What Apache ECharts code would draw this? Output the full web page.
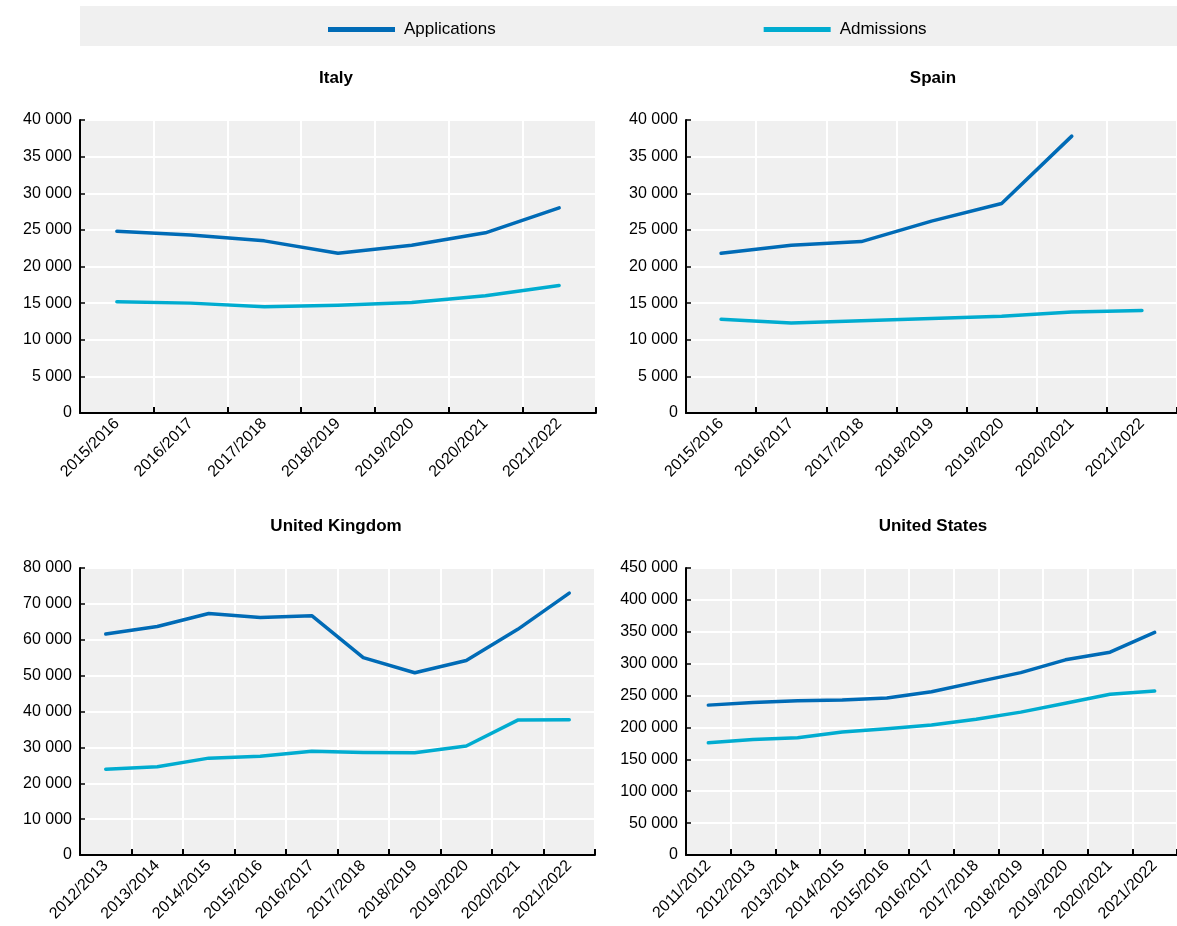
<!DOCTYPE html>
<html><head><meta charset="utf-8">
<script src="https://cdn.jsdelivr.net/npm/echarts@6/dist/echarts.min.js"></script>
<style>html,body{margin:0;padding:0;background:#fff}#c{width:1177px;height:926px}</style>
</head><body><div id="c"></div>
<script>
const seriesNames = ['Applications', 'Admissions'];
const titles = ['Italy', 'Spain', 'United Kingdom', 'United States'];

const catsItaly = ['2015/2016','2016/2017','2017/2018','2018/2019','2019/2020','2020/2021','2021/2022'];
const italyApplications = [24800, 24300, 23500, 21800, 22900, 24600, 28000];
const italyAdmissions = [15200, 15000, 14500, 14700, 15100, 16000, 17400];

const catsSpain = ['2015/2016','2016/2017','2017/2018','2018/2019','2019/2020','2020/2021','2021/2022'];
const spainApplications = [21800, 22900, 23400, 26200, 28600, 37800, null];
const spainAdmissions = [12800, 12300, 12600, 12900, 13200, 13800, 14000];

const catsUK = ['2012/2013','2013/2014','2014/2015','2015/2016','2016/2017','2017/2018','2018/2019','2019/2020','2020/2021','2021/2022'];
const ukApplications = [61600, 63700, 67300, 66200, 66700, 55000, 50800, 54200, 62900, 73000];
const ukAdmissions = [23900, 24600, 27000, 27500, 28900, 28600, 28500, 30400, 37600, 37700];

const catsUS = ['2011/2012','2012/2013','2013/2014','2014/2015','2015/2016','2016/2017','2017/2018','2018/2019','2019/2020','2020/2021','2021/2022'];
const usApplications = [235000, 239000, 242000, 243000, 246000, 256000, 271000, 286000, 306000, 318000, 349000];
const usAdmissions = [176000, 181000, 184000, 193000, 198000, 204000, 213000, 224000, 238000, 252000, 257000];

const yMax = [40000, 40000, 80000, 450000];
const yInterval = [5000, 5000, 10000, 50000];

const colors = ['#006bb6', '#00acd0'];
const FONT = "'Liberation Sans Narrow', 'Arial Narrow', 'Liberation Sans', Arial, sans-serif";

const panels = [
  {cats: catsItaly, a: italyApplications, b: italyAdmissions},
  {cats: catsSpain, a: spainApplications, b: spainAdmissions},
  {cats: catsUK, a: ukApplications, b: ukAdmissions},
  {cats: catsUS, a: usApplications, b: usAdmissions}
];

const gridPos = [
  {left: 80, top: 120, width: 516, height: 293},
  {left: 686, top: 120, width: 491, height: 293},
  {left: 80, top: 568, width: 515, height: 287},
  {left: 686, top: 568, width: 491, height: 287}
];
const titleCenters = [331, 928, 331, 928];

function fmt(v){ return String(v).replace(/\B(?=(\d{3})+(?!\d))/g, ' '); }

const grid = [], xAxis = [], yAxis = [], series = [], title = [];
panels.forEach((p, i) => {
  const g = gridPos[i];
  grid.push(Object.assign({show: true, backgroundColor: '#f0f0f0', borderWidth: 0, containLabel: false}, g));
  title.push({text: titles[i], left: titleCenters[i], top: g.top - 55, textAlign: 'center',
    textStyle: {fontFamily: FONT, fontSize: 17, fontWeight: 'bold', color: '#000'}});
  xAxis.push({type: 'category', gridIndex: i, data: p.cats, boundaryGap: true,
    axisLine: {lineStyle: {color: '#000', width: 2}},
    axisTick: {show: true, inside: true, length: 6, lineStyle: {color: '#000', width: 2}},
    splitLine: {show: true, interval: 0, lineStyle: {color: '#fff', width: 2}},
    axisLabel: {rotate: 45, interval: 0, fontFamily: FONT, fontSize: 16, color: '#000', margin: 8}
  });
  yAxis.push({type: 'value', gridIndex: i, min: 0, max: yMax[i], interval: yInterval[i],
    axisLine: {show: true, lineStyle: {color: '#000', width: 2}},
    axisTick: {show: true, inside: true, length: 5, lineStyle: {color: '#000', width: 1.5}},
    splitLine: {show: true, lineStyle: {color: '#fff', width: 2}},
    axisLabel: {fontFamily: FONT, fontSize: 16, color: '#000', margin: 8, formatter: fmt}
  });
  [p.a, p.b].forEach((d, k) => {
    series.push({name: seriesNames[k], type: 'line', xAxisIndex: i, yAxisIndex: i, data: d,
      showSymbol: false, symbol: 'none', connectNulls: false,
      lineStyle: {color: colors[k], width: 3.5, cap: 'round', join: 'round'}, itemStyle: {color: colors[k]}, z: 3 - k});
  });
});

const chart = echarts.init(document.getElementById('c'), null, {renderer: 'canvas'});
chart.setOption({
  animation: false,
  color: colors,
  graphic: [{type: 'rect', shape: {x: 80, y: 6, width: 1097, height: 40}, style: {fill: '#f0f0f0'}, z: -10}],
  title: title,
  legend: {top: 16, left: 323, itemGap: 268, itemWidth: 67, itemHeight: 5, icon: 'rect',
    textStyle: {fontFamily: FONT, fontSize: 17, color: '#000', padding: [0,0,0,4]},
    data: seriesNames},
  grid: grid, xAxis: xAxis, yAxis: yAxis, series: series
});
</script></body></html>
